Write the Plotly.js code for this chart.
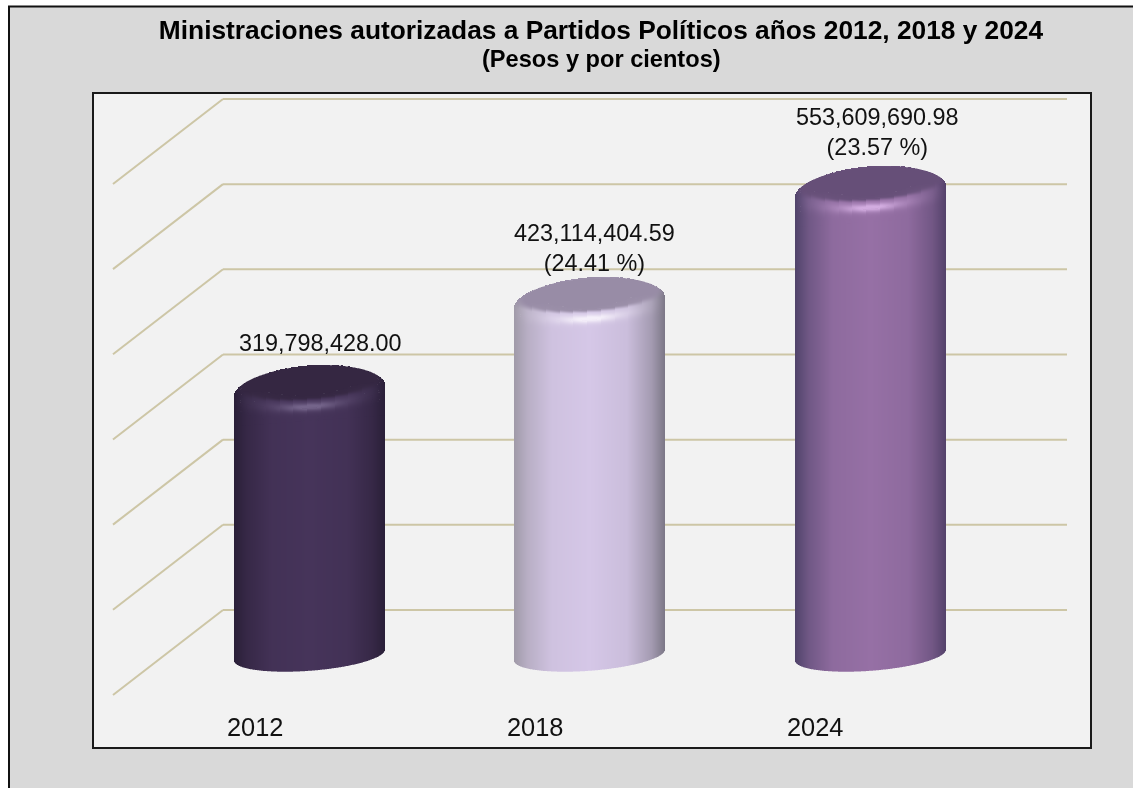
<!DOCTYPE html>
<html>
<head>
<meta charset="utf-8">
<script src="https://cdn.plot.ly/plotly-3.0.1.min.js"></script>
<style>html,body{margin:0;padding:0;background:#fff;overflow:hidden}#chart{width:1133px;height:788px;filter:blur(0.45px)}</style>
</head>
<body>
<div id="chart"></div>
<script>
var categories = ['2012', '2018', '2024'];
var values = [319798428.00, 423114404.59, 553609690.98];
var percents = [null, 24.41, 23.57];
var gridValues = [0, 100e6, 200e6, 300e6, 400e6, 500e6, 600e6];

var sideCenter = [[70,52,90],[213,199,231],[150,112,165]];
var edgeLeft   = [[42,31,56],[160,154,168],[80,67,106]];
var edgeRight  = [[42,31,56],[124,119,134],[84,66,106]];
var faceColor  = [[53,39,66],[152,140,166],[102,79,120]];
var hiColor    = [[116,100,138],[245,240,250],[210,172,224]];
var labelShift = [[11,43.5],[5,50],[7,55.5]];

// frame of the picture, in pixels
var W = 1133, H = 788, L = 94, R = 1090, T = 94, B = 747;
var catSpacing = 280.25, cat0Px = 309.5, zeroPx = 658.7, pxPerUnit = 85.17 / 100e6;
var xr = [(L - cat0Px) / catSpacing, (R - cat0Px) / catSpacing];
var yr = [(zeroPx - B) / pxPerUnit, (zeroPx - T) / pxPerUnit];
function xOff(i, dx) { return (Math.floor(cat0Px + i * catSpacing) + 0.5 + dx - cat0Px) / catSpacing; }
function yOff(v, dy) { return v - dy / pxPerUnit; }

var halfW = 75.5, skew = 5.5, capB = 20.5, cornerDrop = 5, faceA = 68, faceB = 16, faceUp = 4, baseB = 15.8, baseUp = 3.7;

function mix(a, b, t) { return [a[0]+(b[0]-a[0])*t, a[1]+(b[1]-a[1])*t, a[2]+(b[2]-a[2])*t]; }
function css(c) { return 'rgb(' + Math.round(c[0]) + ',' + Math.round(c[1]) + ',' + Math.round(c[2]) + ')'; }
function sstep(a, b, x) { var t = Math.max(0, Math.min(1, (x-a)/(b-a))); return t*t*(3-2*t); }

function sideAt(i, u) {
  var e = u < 0 ? edgeLeft[i] : edgeRight[i], a = Math.abs(u), t;
  if (a > 0.82) t = 0.45 * (1 - (a-0.82)/0.18);
  else if (a > 0.5) t = 0.45 + 0.43 * (0.82-a)/0.32;
  else t = 0.88 + 0.12 * (0.5-a)/0.5;
  return mix(e, sideCenter[i], t);
}

function cylinderTrace(i) {
  var xs = [], bases = [], hs = [], widths = [], colors = [];
  var wUnit = 0.9 / catSpacing, v = values[i];
  function push(dx, dyBottom, dyTop, col) {
    xs.push(xOff(i, dx));
    var b = yOff(v, dyBottom), t = yOff(v, dyTop);
    bases.push(b); hs.push(t - b); widths.push(wUnit); colors.push(col);
  }
  // body
  for (var dx = -halfW + 0.5; dx < halfW; dx += 1) {
    var u = dx / halfW, q = Math.sqrt(Math.max(0, 1 - u*u));
    var bottom = (zeroPx - baseUp + baseB*q - skew*u) - (zeroPx - v*pxPerUnit);
    push(dx, bottom, 20 - skew*u, css(sideAt(i, u)));
  }
  // cap: shaded one pixel row at a time, equal neighbours merged
  for (dx = -halfW + 0.5; dx < halfW; dx += 1) {
    u = dx / halfW; q = Math.sqrt(Math.max(0, 1 - u*u));
    var side = sideAt(i, u);
    var top = cornerDrop - skew*u - (capB + cornerDrop)*q;
    var endDy = capB + 14 - skew*u;
    var runEnd = null, runCol = null;
    for (var dy = endDy; dy > top; dy -= 1) {
      var yy = dy + skew*u;
      var r = Math.sqrt(u*u + (yy/capB)*(yy/capB));
      var ri = Math.sqrt((dx/faceA)*(dx/faceA) + ((yy+faceUp)/faceB)*((yy+faceUp)/faceB));
      var c = mix(faceColor[i], side, sstep(0.94, 1.2, ri));
      if (yy > 0) {
        var d = (r - 1) * capB;
        var band = 0.28 * Math.exp(-(d*d)/30) * (1 - u*u) * sstep(0, 8, yy);
        var spot = Math.exp(-(dx*dx)/(26*26) - (d*d)/14);
        c = mix(c, hiColor[i], Math.min(1, band + 0.85*spot));
      }
      var s = css(c);
      if (s !== runCol) {
        if (runCol !== null) push(dx, runEnd, Math.max(dy - 0.6, top), runCol);
        runCol = s; runEnd = dy;
      }
    }
    if (runCol !== null) push(dx, runEnd, top, runCol);
  }
  return {type: 'bar', x: xs, base: bases, y: hs, width: widths, opacity: 1,
          marker: {color: colors, opacity: 1, line: {width: 0}}, hoverinfo: 'skip', showlegend: false};
}

var traces = categories.map(function (_, i) { return cylinderTrace(i); });

// walls: back wall lines and the diagonals running to the front
var backShift = (zeroPx - 610) / pxPerUnit, depth = 85 / pxPerUnit;
var backLeft = (223 - cat0Px) / catSpacing, backRight = (1067 - cat0Px) / catSpacing, frontLeft = (113 - cat0Px) / catSpacing;
var gridStyle = {color: '#cdc6a6', width: 2};
var shapes = [{
  type: 'rect', layer: 'below', xref: 'paper', yref: 'paper',
  x0: (9 - L) / (R - L), x1: (W + 20 - L) / (R - L),
  y0: (B - H - 20) / (B - T), y1: (B - 6.5) / (B - T),
  fillcolor: '#d9d9d9', line: {color: '#111', width: 2}
}, {
  type: 'rect', layer: 'below', xref: 'paper', yref: 'paper', x0: 0, x1: 1, y0: 0, y1: 1,
  fillcolor: '#f2f2f2', line: {width: 0}
}];
gridValues.forEach(function (g) {
  var yb = g + backShift;
  shapes.push({type: 'line', layer: 'below', xref: 'x', yref: 'y', x0: backLeft, x1: backRight, y0: yb, y1: yb, line: gridStyle});
  shapes.push({type: 'line', layer: 'below', xref: 'x', yref: 'y', x0: frontLeft, x1: backLeft, y0: yb - depth, y1: yb, line: gridStyle});
});

function money(v) { return v.toLocaleString('en-US', {minimumFractionDigits: 2, maximumFractionDigits: 2}); }
var font = 'Liberation Sans, Arial, sans-serif';
var annotations = [{
  xref: 'paper', yref: 'paper', x: (601 - L) / (R - L), y: (B - 59) / (B - T), showarrow: false,
  text: '<b>(Pesos y por cientos)</b>', font: {family: font, size: 23.6, color: '#000'}, yanchor: 'middle'
}];
categories.forEach(function (cat, i) {
  annotations.push({
    xref: 'x', yref: 'y', x: i, y: values[i], xshift: labelShift[i][0], yshift: labelShift[i][1], showarrow: false, yanchor: 'middle',
    text: money(values[i]) + (percents[i] === null ? '' : '<br>(' + percents[i].toFixed(2) + ' %)'),
    font: {family: font, size: 23.4, color: '#111'}
  });
  annotations.push({
    xref: 'x', yref: 'paper', x: i, xshift: -55, y: (B - 727) / (B - T), showarrow: false, yanchor: 'middle',
    text: cat, font: {family: font, size: 25.4, color: '#111'}
  });
});

var hiddenAxis = {showgrid: false, zeroline: false, showticklabels: false, ticks: '', showline: true, mirror: true, linecolor: '#1a1a1a', linewidth: 2, fixedrange: true};
var layout = {
  width: W, height: H,
  margin: {l: L, r: W - R, t: T, b: H - B, pad: 0},
  paper_bgcolor: '#ffffff', plot_bgcolor: 'rgba(0,0,0,0)',
  barmode: 'overlay', showlegend: false, hovermode: false,
  title: {text: '<b>Ministraciones autorizadas a Partidos Políticos años 2012, 2018 y 2024</b>',
          font: {family: font, size: 26.3, color: '#000'}, x: 601 / W, xanchor: 'center', y: 1 - 30 / H, yanchor: 'middle'},
  xaxis: Object.assign({type: 'linear', range: xr}, hiddenAxis),
  yaxis: Object.assign({type: 'linear', range: yr}, hiddenAxis),
  shapes: shapes, annotations: annotations
};
Plotly.newPlot('chart', traces, layout, {displayModeBar: false});
</script>
</body>
</html>
